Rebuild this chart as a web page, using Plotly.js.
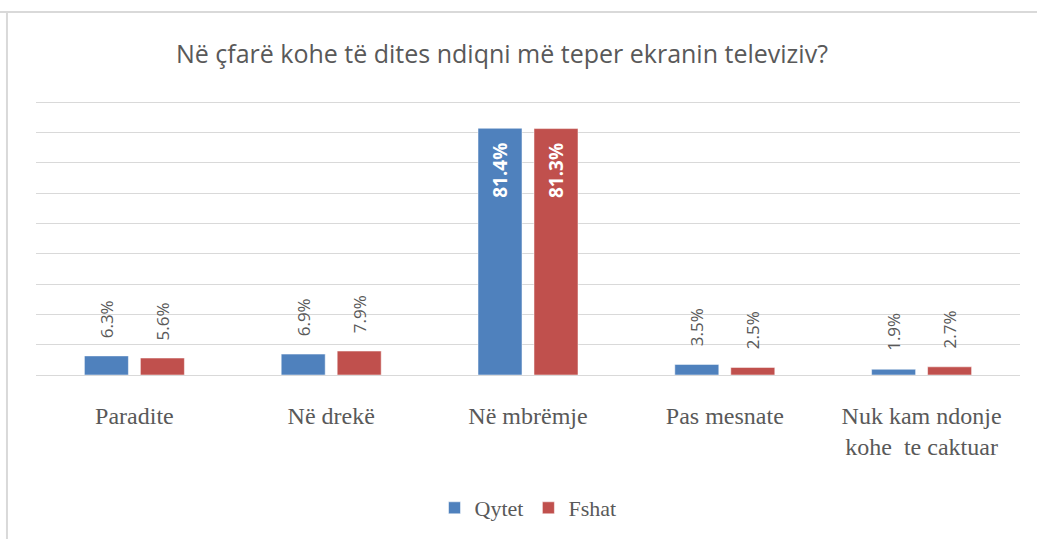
<!DOCTYPE html>
<html>
<head>
<meta charset="utf-8">
<script src="https://cdn.plot.ly/plotly-3.0.1.min.js"></script>
<style>html,body{margin:0;padding:0;background:#fff;}#chart{width:1037px;height:539px;}</style>
</head>
<body>
<div id="chart"></div>
<script>
const categories = ["Paradite", "Në drekë", "Në mbrëmje", "Pas mesnate", "Nuk kam ndonje<br>kohe  te caktuar"];
const qytet = [6.3, 6.9, 81.4, 3.5, 1.9];
const fshat = [5.6, 7.9, 81.3, 2.5, 2.7];
const seriesNames = ["Qytet", "Fshat"];
const colors = ["#4F81BD", "#C0504D"];

function mk(vals, name, color) {
  return {
    type: "bar", x: categories, y: vals, name: name,
    marker: {color: color, line: {color: "rgba(255,255,255,0.5)", width: 1}},
    hoverinfo: "none"
  };
}
const data = [mk(qytet, seriesNames[0], colors[0]), mk(fshat, seriesNames[1], colors[1])];

// data labels, built from the series arrays
const annotations = [];
[qytet, fshat].forEach((vals, si) => {
  vals.forEach((v, i) => {
    const inside = v > 40;
    annotations.push({
      x: categories[i], y: v, xref: "x", yref: "y",
      text: inside ? "<b>" + v.toFixed(1) + "%</b>" : v.toFixed(1) + "%",
      showarrow: false, textangle: -90,
      xanchor: "center", yanchor: inside ? "top" : "bottom",
      xshift: si === 0 ? -28 : 28,
      yshift: inside ? -13 : 16,
      font: inside ? {family: "Open Sans, sans-serif", size: 19, color: "#ffffff"}
                   : {family: "Open Sans, sans-serif", size: 17, color: "#595959"}
    });
  });
});

const layout = {
  width: 1037, height: 539,
  margin: {l: 36, r: 17, t: 101, b: 163},
  paper_bgcolor: "#fff", plot_bgcolor: "#fff",
  barmode: "group", bargap: 0.431, bargroupgap: 0.214,
  title: {text: "Në çfarë kohe të dites ndiqni më teper ekranin televiziv?", x: 0.484, xanchor: "center", y: 0.9, yanchor: "middle",
    font: {family: "Open Sans, sans-serif", size: 25, color: "#595959"}},
  xaxis: {type: "category", showgrid: false, zeroline: false, showline: true, linecolor: "#d9d9d9", linewidth: 1,
    ticks: "", ticklabelstandoff: 19, tickfont: {family: "Liberation Serif, serif", size: 24, color: "#595959"}},
  yaxis: {range: [0, 90.4], dtick: 10, showgrid: true, gridcolor: "#d9d9d9", gridwidth: 1, showticklabels: false, zeroline: false, fixedrange: true},
  showlegend: true,
  legend: {orientation: "h", x: 0.5, xanchor: "center", y: -0.48, yanchor: "middle",
    font: {family: "Liberation Serif, serif", size: 22, color: "#595959"}, itemwidth: 30, traceorder: "normal"},
  annotations: annotations,
  shapes: [
    {type: "line", xref: "paper", yref: "paper", x0: -0.04, x1: 1.03, y0: 1.325, y1: 1.325, line: {color: "#d9d9d9", width: 2}},
    {type: "line", xref: "paper", yref: "paper", x0: -0.0295, x1: -0.0295, y0: 1.325, y1: -0.6, line: {color: "#d9d9d9", width: 2}}
  ]
};
Plotly.newPlot("chart", data, layout, {displayModeBar: false, staticPlot: true});
</script>
</body>
</html>
